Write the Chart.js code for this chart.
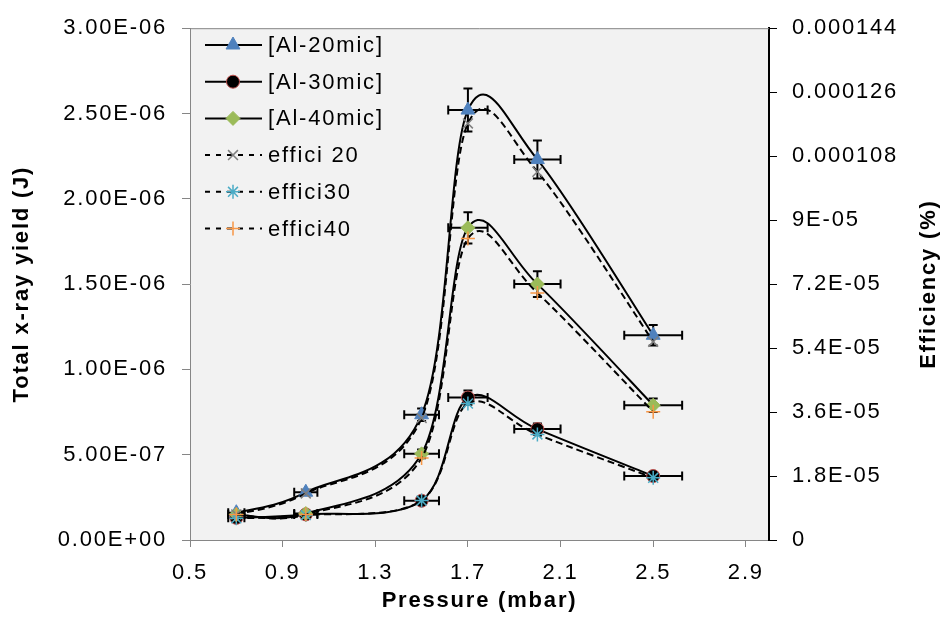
<!DOCTYPE html>
<html>
<head>
<meta charset="utf-8">
<script src="https://cdn.jsdelivr.net/npm/chart.js"></script>
<style>
  html, body { margin: 0; padding: 0; background: #fff; }
  #wrap { width: 949px; height: 626px; }
</style>
</head>
<body>
<div id="wrap"><canvas id="myChart" width="949" height="626"></canvas></div>
<script>
// pressure values (mbar)
var pressure = [0.7, 1.0, 1.5, 1.7, 2.0, 2.5];

// total x-ray yield (J), left axis
var yield20 = [0.16e-6, 0.28e-6, 0.734e-6, 2.52e-6, 2.23e-6, 1.2e-6];
var yield30 = [0.13e-6, 0.15e-6, 0.23e-6, 0.835e-6, 0.65e-6, 0.375e-6];
var yield40 = [0.15e-6, 0.155e-6, 0.505e-6, 1.83e-6, 1.5e-6, 0.79e-6];

// efficiency (%), right axis
var effici20 = [7.2e-6, 13.1e-6, 34.3e-6, 117.2e-6, 103.6e-6, 55.8e-6];
var effici30 = [6.1e-6, 7.0e-6, 11.1e-6, 38.4e-6, 29.7e-6, 17.5e-6];
var effici40 = [7.2e-6, 7.2e-6, 23.1e-6, 84.8e-6, 69.5e-6, 36.1e-6];

// error bars are 5% on both x and y for the yield series
var errFrac = 0.05;

var seriesNames = ["[Al-20mic]", "[Al-30mic]", "[Al-40mic]", "effici 20", "effici30", "effici40"];

// tick values and labels
var xTicks = [0.5, 0.9, 1.3, 1.7, 2.1, 2.5, 2.9];
var xTickLabels = ["0.5", "0.9", "1.3", "1.7", "2.1", "2.5", "2.9"];
var yTicks = [0, 0.5e-6, 1e-6, 1.5e-6, 2e-6, 2.5e-6, 3e-6];
var yTickLabels = ["0.00E+00", "5.00E-07", "1.00E-06", "1.50E-06", "2.00E-06", "2.50E-06", "3.00E-06"];
var y2Ticks = [0, 1.8e-5, 3.6e-5, 5.4e-5, 7.2e-5, 9e-5, 1.08e-4, 1.26e-4, 1.44e-4];
var y2TickLabels = ["0", "1.8E-05", "3.6E-05", "5.4E-05", "7.2E-05", "9E-05", "0.000108", "0.000126", "0.000144"];

// marker look for each series
var markers = [
  { pointStyle: "triangle", radius: 8, bg: "#4F81BD", border: "#4F81BD", bw: 1 },
  { pointStyle: "circle", radius: 6.5, bg: "#000000", border: "#C0504D", bw: 1 },
  { pointStyle: "rectRot", radius: 7, bg: "#9BBB59", border: "#9BBB59", bw: 1 },
  { pointStyle: "crossRot", radius: 7, bg: "#7F7F7F", border: "#7F7F7F", bw: 1.5 },
  { pointStyle: "star", radius: 7, bg: "#4BACC6", border: "#4BACC6", bw: 1.5 },
  { pointStyle: "cross", radius: 7, bg: "#F79646", border: "#F79646", bw: 1.5 }
];

var fontFamily = "'Liberation Sans', Arial, sans-serif";
var spacing = "1.8px";

function toPoints(vals) {
  return vals.map(function (v, i) { return { x: pressure[i], y: v }; });
}

function makeDataset(i, vals, axis, dashed) {
  var m = markers[i];
  return {
    label: seriesNames[i],
    data: toPoints(vals),
    yAxisID: axis,
    showLine: true,
    tension: 0.4,
    borderColor: "#000",
    borderWidth: 2,
    borderDash: dashed ? [7, 4] : [],
    pointStyle: m.pointStyle,
    pointRadius: m.radius,
    pointBackgroundColor: m.bg,
    pointBorderColor: m.border,
    pointBorderWidth: m.bw,
    order: 6 - i
  };
}

// letter spacing to widen the text a bit
var spacingPlugin = {
  id: "spacing",
  beforeLayout: function (chart) { chart.ctx.letterSpacing = spacing; },
  beforeDraw: function (chart) { chart.ctx.letterSpacing = spacing; }
};

// excel style smoothing: control points at 1/6 of the neighbour chord
var excelSmooth = {
  id: "excelSmooth",
  beforeDatasetDraw: function (chart, args) {
    var line = args.meta.dataset;
    var pts = args.meta.data;
    if (!line || !pts.length) return;
    var n = pts.length;
    for (var i = 0; i < n; i++) {
      var p = pts[i];
      var prev = pts[Math.max(i - 1, 0)];
      var next = pts[Math.min(i + 1, n - 1)];
      var dx = (next.x - prev.x) / 6, dy = (next.y - prev.y) / 6;
      p.cp1x = p.x - dx; p.cp1y = p.y - dy;
      p.cp2x = p.x + dx; p.cp2y = p.y + dy;
    }
    line._pointsUpdated = true;
    line._path = undefined;
  }
};

// plot background and frame
var plotArea = {
  id: "plotArea",
  beforeDraw: function (chart) {
    var ctx = chart.ctx, a = chart.chartArea;
    ctx.save();
    ctx.fillStyle = "#fff";
    ctx.fillRect(0, 0, chart.width, chart.height);
    ctx.fillStyle = "#F2F2F2";
    ctx.fillRect(a.left, a.top, a.right - a.left, a.bottom - a.top);
    ctx.restore();
  },
  afterDraw: function (chart) {
    var ctx = chart.ctx, a = chart.chartArea;
    ctx.save();
    ctx.strokeStyle = "#868686";
    ctx.lineWidth = 1;
    ctx.beginPath();
    ctx.moveTo(a.left, a.top + 0.5);
    ctx.lineTo(a.right, a.top + 0.5);
    ctx.stroke();
    ctx.restore();
  }
};

// error bars on the yield series
var errorBars = {
  id: "errorBars",
  beforeDatasetsDraw: function (chart) {
    var ctx = chart.ctx;
    var xs = chart.scales.x, ys = chart.scales.y;
    var cap = 4.5;
    ctx.save();
    ctx.strokeStyle = "#000";
    ctx.lineWidth = 2;
    [yield20, yield30, yield40].forEach(function (vals) {
      vals.forEach(function (v, i) {
        var px = xs.getPixelForValue(pressure[i]);
        var py = ys.getPixelForValue(v);
        var xl = xs.getPixelForValue(pressure[i] * (1 - errFrac));
        var xr = xs.getPixelForValue(pressure[i] * (1 + errFrac));
        var yt = ys.getPixelForValue(v * (1 + errFrac));
        var yb = ys.getPixelForValue(v * (1 - errFrac));
        ctx.beginPath();
        ctx.moveTo(xl, py); ctx.lineTo(xr, py);
        ctx.moveTo(xl, py - cap); ctx.lineTo(xl, py + cap);
        ctx.moveTo(xr, py - cap); ctx.lineTo(xr, py + cap);
        ctx.moveTo(px, yt); ctx.lineTo(px, yb);
        ctx.moveTo(px - cap, yt); ctx.lineTo(px + cap, yt);
        ctx.moveTo(px - cap, yb); ctx.lineTo(px + cap, yb);
        ctx.stroke();
      });
    });
    ctx.restore();
  }
};

// legend inside the plot, line + marker + text
var insideLegend = {
  id: "insideLegend",
  afterDraw: function (chart) {
    var ctx = chart.ctx;
    var x0 = 205, x1 = 262, xm = 233, tx = 268, y0 = 45, step = 36.7;
    ctx.save();
    ctx.letterSpacing = spacing;
    seriesNames.forEach(function (name, i) {
      var y = y0 + i * step;
      var m = markers[i];
      ctx.strokeStyle = "#000";
      ctx.lineWidth = 2;
      ctx.setLineDash(i < 3 ? [] : [5, 6]);
      ctx.beginPath();
      ctx.moveTo(x0, y);
      ctx.lineTo(x1, y);
      ctx.stroke();
      ctx.setLineDash([]);
      ctx.fillStyle = m.bg;
      ctx.strokeStyle = m.border;
      ctx.lineWidth = m.bw;
      Chart.helpers.drawPoint(ctx, { pointStyle: m.pointStyle, radius: m.radius, rotation: 0, borderWidth: m.bw }, xm, y);
      ctx.fillStyle = "#000";
      ctx.font = "22px " + fontFamily;
      ctx.textAlign = "left";
      ctx.textBaseline = "middle";
      ctx.fillText(name, tx, y + 1);
    });
    ctx.restore();
  }
};

// right axis title reads bottom to top like the left one
var rightTitle = {
  id: "rightTitle",
  afterDraw: function (chart) {
    var ctx = chart.ctx, a = chart.chartArea;
    ctx.save();
    ctx.letterSpacing = spacing;
    ctx.translate(929, (a.top + a.bottom) / 2);
    ctx.rotate(-Math.PI / 2);
    ctx.fillStyle = "#000";
    ctx.font = "bold 22px " + fontFamily;
    ctx.textAlign = "center";
    ctx.textBaseline = "middle";
    ctx.fillText("Efficiency (%)", 0, 0);
    ctx.restore();
  }
};

Chart.defaults.font.family = fontFamily;
Chart.defaults.color = "#000";

var tickFont = { size: 22 };
var titleFont = { size: 22, weight: "bold" };

new Chart(document.getElementById("myChart").getContext("2d"), {
  type: "scatter",
  data: {
    datasets: [
      makeDataset(0, yield20, "y", false),
      makeDataset(1, yield30, "y", false),
      makeDataset(2, yield40, "y", false),
      makeDataset(3, effici20, "y2", true),
      makeDataset(4, effici30, "y2", true),
      makeDataset(5, effici40, "y2", true)
    ]
  },
  options: {
    responsive: false,
    animation: false,
    devicePixelRatio: 1,
    layout: { padding: { top: 22, left: 0, right: 0, bottom: 0 } },
    plugins: {
      legend: { display: false },
      tooltip: { enabled: false }
    },
    scales: {
      x: {
        type: "linear",
        position: "bottom",
        min: 0.5,
        max: 3.0,
        afterBuildTicks: function (s) { s.ticks = xTicks.map(function (v) { return { value: v }; }); },
        afterFit: function (s) { s.height = 86; },
        ticks: {
          callback: function (v, i) { return xTickLabels[i]; },
          padding: 13, font: tickFont, color: "#000", maxRotation: 0, autoSkip: false
        },
        grid: { drawOnChartArea: false, drawTicks: true, tickLength: 7, color: "#868686" },
        border: { display: true, color: "#868686", width: 1 },
        title: { display: true, text: "Pressure (mbar)", font: titleFont, color: "#000", padding: { top: 0, bottom: 12 } }
      },
      y: {
        type: "linear",
        position: "left",
        min: 0,
        max: 3e-6,
        afterBuildTicks: function (s) { s.ticks = yTicks.map(function (v) { return { value: v }; }); },
        afterFit: function (s) { s.width = 190; },
        ticks: {
          callback: function (v, i) { return yTickLabels[i]; },
          padding: 15, font: tickFont, color: "#000", autoSkip: false
        },
        grid: { drawOnChartArea: false, drawTicks: true, tickLength: 8, color: "#868686" },
        border: { display: true, color: "#868686", width: 1 },
        title: { display: true, text: "Total x-ray yield (J)", font: titleFont, color: "#000", padding: { top: 9, bottom: 0 } }
      },
      y2: {
        type: "linear",
        position: "right",
        min: 0,
        max: 1.44e-4,
        afterBuildTicks: function (s) { s.ticks = y2Ticks.map(function (v) { return { value: v }; }); },
        afterFit: function (s) { s.width = 180; },
        ticks: {
          callback: function (v, i) { return y2TickLabels[i]; },
          padding: 15, font: tickFont, color: "#000", autoSkip: false
        },
        grid: { drawOnChartArea: false, drawTicks: true, tickLength: 8, color: "#000" },
        border: { display: true, color: "#000", width: 2 },
        title: { display: false }
      }
    }
  },
  plugins: [spacingPlugin, plotArea, errorBars, excelSmooth, insideLegend, rightTitle]
});
</script>
</body>
</html>
